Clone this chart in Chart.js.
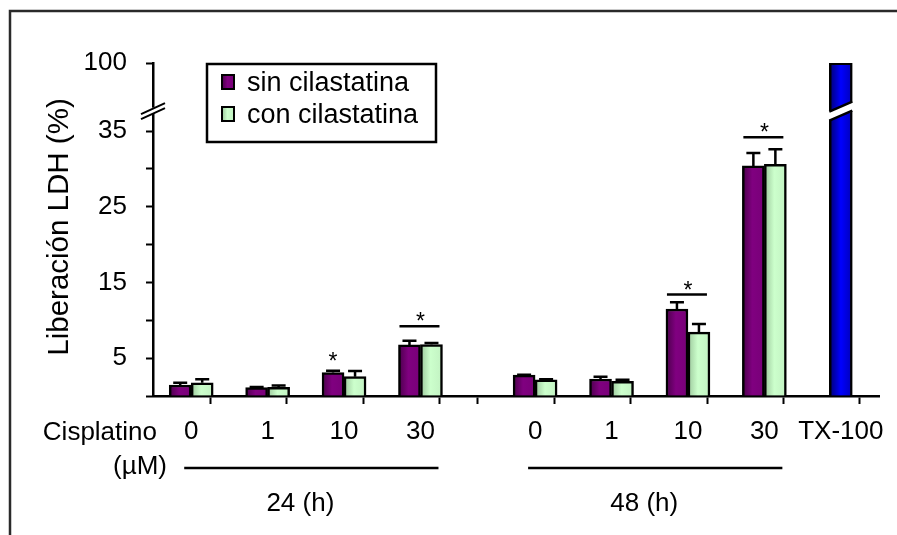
<!DOCTYPE html>
<html>
<head>
<meta charset="utf-8">
<script src="https://cdn.jsdelivr.net/npm/chart.js@4/dist/chart.umd.min.js"></script>
<style>
html,body{margin:0;padding:0;background:#fff;}
#wrap{width:897px;height:535px;position:relative;}
</style>
</head>
<body>
<div id="wrap"><canvas id="c" width="897" height="535"></canvas></div>
<script>
// ---- data ----
const doseLabels = ['0', '1', '10', '30', '0', '1', '10', '30'];
const doseX = [1, 3, 5, 7, 10, 12, 14, 16];          // category centres on the x axis
const groupBounds = [0, 2, 4, 6, 8, 9, 11, 13, 15, 17, 19]; // category boundaries (tick marks)
const txLabel = 'TX-100';
const txX = 18;
const sinCilastatina = [1.45, 1.1, 3.1, 6.75, 2.75, 2.25, 11.5, 30.4];
const sinCilastatinaErr = [0.3, 0.08, 0.25, 0.55, 0.05, 0.3, 0.9, 1.7];
const conCilastatina = [1.75, 1.15, 2.55, 6.8, 2.15, 1.95, 8.45, 30.6];
const conCilastatinaErr = [0.45, 0.25, 0.75, 0.2, 0.05, 0.2, 1.05, 2.0];
const txValue = [100];
const yTicks = [0, 5, 10, 15, 20, 25, 30, 35];
const yTopLabel = 100;      // value shown at the top of the broken axis
const yAxisMax = 44;        // axis position where the "100" tick sits
const axisBreakValue = 37.7;
const sigLevel = [null, null, 3.95, 9.2, null, null, 13.4, 34.2];
const sigType = ['', '', 'sin', 'pair', '', '', 'pair', 'pair'];
const groupNames = ['24 (h)', '48 (h)'];
const groupMembers = [[0, 3], [4, 7]];
const xRowTitle = ['Cisplatino', '(\u00B5M)'];
const seriesNames = ['sin cilastatina', 'con cilastatina'];

const FONT = '"Liberation Sans", Arial, sans-serif';
const BAR_W = 22;

const labelByX = new Map();
doseX.forEach((x, i) => labelByX.set(x, doseLabels[i]));
labelByX.set(txX, txLabel);
const boundarySet = new Set(groupBounds);
const allXTicks = [...new Set([...groupBounds, ...doseX, txX])].sort((a, b) => a - b);

function grad(ctx, x0, x1, stops) {
  const g = ctx.createLinearGradient(x0, 0, x1, 0);
  stops.forEach(s => g.addColorStop(s[0], s[1]));
  return g;
}
const purpleStops = [[0, '#4a004a'], [0.45, '#800080'], [1, '#780078']];
const greenStops = [[0, '#9cc89c'], [0.45, '#ccffcc'], [1, '#c2f2c2']];
const blueStops = [[0, '#00006e'], [0.5, '#0000ff'], [1, '#0000b8']];

function barFill(stops, shift, w) {
  return (c) => {
    const xs = c.chart.scales.x;
    if (!xs || !c.parsed || c.parsed.x === undefined) return stops[1][1];
    const cx = xs.getPixelForValue(c.parsed.x) + shift;
    if (!isFinite(cx)) return stops[1][1];
    return grad(c.chart.ctx, cx - w / 2, cx + w / 2, stops);
  };
}

const sinData = doseX.map((x, i) => ({ x, y: sinCilastatina[i] }));
const conData = doseX.map((x, i) => ({ x, y: conCilastatina[i] }));
const txData = [{ x: txX, y: txValue[0] }];

// ---- plugins ----
const framePlugin = {
  id: 'frame',
  afterDraw(chart) {
    const ctx = chart.ctx;
    ctx.save();
    ctx.strokeStyle = '#2a2a2a';
    ctx.lineWidth = 2.5;
    ctx.beginPath();
    ctx.moveTo(10, 535);
    ctx.lineTo(10, 11);
    ctx.lineTo(897, 11);
    ctx.stroke();
    ctx.restore();
  }
};

const errorPlugin = {
  id: 'errs',
  afterDatasetsDraw(chart) {
    const ctx = chart.ctx;
    const ys = chart.scales.y;
    const errs = [sinCilastatinaErr, conCilastatinaErr];
    const vals = [sinCilastatina, conCilastatina];
    ctx.save();
    ctx.strokeStyle = '#000';
    ctx.lineWidth = 2.5;
    [0, 1].forEach(d => {
      const meta = chart.getDatasetMeta(d);
      meta.data.forEach((el, i) => {
        const top = ys.getPixelForValue(vals[d][i]);
        const cap = ys.getPixelForValue(vals[d][i] + errs[d][i]);
        ctx.beginPath();
        ctx.moveTo(el.x, top);
        ctx.lineTo(el.x, cap);
        ctx.moveTo(el.x - 7, cap);
        ctx.lineTo(el.x + 7, cap);
        ctx.stroke();
      });
    });
    // significance marks
    const xs = chart.scales.x;
    ctx.fillStyle = '#000';
    ctx.font = '23px ' + FONT;
    ctx.textAlign = 'center';
    ctx.textBaseline = 'alphabetic';
    sigLevel.forEach((lv, i) => {
      if (lv === null) return;
      const cx = xs.getPixelForValue(doseX[i]);
      const py = ys.getPixelForValue(lv);
      if (sigType[i] === 'pair') {
        ctx.beginPath();
        ctx.moveTo(cx - 21, py);
        ctx.lineTo(cx + 19, py);
        ctx.stroke();
        ctx.fillText('*', cx, py + 3);
      } else {
        ctx.fillText('*', cx - BAR_W / 2, py + 3);
      }
    });
    // break in TX-100 bar
    const txEl = chart.getDatasetMeta(2).data[0];
    if (txEl) {
      const l = txEl.x - txEl.width / 2, r = txEl.x + txEl.width / 2;
      const yb = ys.getPixelForValue(axisBreakValue);
      const ca = chart.chartArea;
      ctx.strokeStyle = '#000';
      ctx.lineWidth = 2;
      ctx.beginPath();
      ctx.moveTo(l + 1, ca.top + 1);
      ctx.lineTo(r - 1, ca.top + 1);
      ctx.stroke();
      ctx.fillStyle = '#fff';
      ctx.beginPath();
      ctx.moveTo(l - 2, yb + 1);
      ctx.lineTo(r + 2, yb - 9);
      ctx.lineTo(r + 2, yb + 0);
      ctx.lineTo(l - 2, yb + 10);
      ctx.closePath();
      ctx.fill();
      ctx.lineWidth = 2.5;
      ctx.beginPath();
      ctx.moveTo(l, yb + 1);
      ctx.lineTo(r, yb - 9);
      ctx.moveTo(l, yb + 10);
      ctx.lineTo(r, yb + 0);
      ctx.stroke();
    }
    ctx.restore();
  }
};

const axisExtrasPlugin = {
  id: 'axisExtras',
  afterDraw(chart) {
    const ctx = chart.ctx;
    const xs = chart.scales.x, ys = chart.scales.y;
    const ax = chart.chartArea.left;
    ctx.save();
    // y-axis break marks
    const yb = ys.getPixelForValue(axisBreakValue);
    ctx.fillStyle = '#fff';
    ctx.fillRect(ax - 2, yb - 3, 4, 6);
    ctx.strokeStyle = '#000';
    ctx.lineWidth = 2;
    ctx.beginPath();
    ctx.moveTo(ax - 12, yb + 3.5);
    ctx.lineTo(ax + 12, yb - 7.5);
    ctx.moveTo(ax - 12, yb + 8.5);
    ctx.lineTo(ax + 12, yb - 2.5);
    ctx.stroke();
    // y title
    ctx.fillStyle = '#000';
    ctx.font = '29.5px ' + FONT;
    ctx.textAlign = 'center';
    ctx.textBaseline = 'alphabetic';
    ctx.translate(68, 227);
    ctx.rotate(-Math.PI / 2);
    ctx.fillText('Liberaci\u00F3n LDH (%)', 0, 0);
    ctx.setTransform(1, 0, 0, 1, 0, 0);
    // row titles
    ctx.font = '26px ' + FONT;
    ctx.textAlign = 'right';
    ctx.fillText(xRowTitle[0], 157, 440);
    ctx.fillText(xRowTitle[1], 167, 474);
    // group lines and names
    ctx.lineWidth = 2.5;
    ctx.textAlign = 'center';
    groupMembers.forEach((g, k) => {
      const x0 = xs.getPixelForValue(doseX[g[0]]) - 7;
      const x1 = xs.getPixelForValue(doseX[g[1]]) + 18;
      ctx.beginPath();
      ctx.moveTo(x0, 468);
      ctx.lineTo(x1, 468);
      ctx.stroke();
      ctx.fillText(groupNames[k], (x0 + x1) / 2 - 11, 511);
    });
    // legend
    const lx = ax + 54, ly = chart.chartArea.top + 1;
    ctx.lineWidth = 2.5;
    ctx.strokeRect(lx, ly, 229, 78);
    const sw = [purpleStops, greenStops];
    ctx.font = '27px ' + FONT;
    ctx.textAlign = 'left';
    ctx.textBaseline = 'middle';
    seriesNames.forEach((name, i) => {
      const sy = ly + 18 + i * 32;
      ctx.fillStyle = grad(ctx, lx + 15, lx + 27, sw[i]);
      ctx.fillRect(lx + 15, sy - 7, 12, 14);
      ctx.strokeStyle = '#000';
      ctx.lineWidth = 2;
      ctx.strokeRect(lx + 15, sy - 7, 12, 14);
      ctx.fillStyle = '#000';
      ctx.fillText(name, lx + 40, sy + 2);
    });
    ctx.restore();
  }
};

new Chart(document.getElementById('c'), {
  type: 'bar',
  data: {
    datasets: [
      { label: seriesNames[0], data: sinData, backgroundColor: barFill(purpleStops, -BAR_W / 2, BAR_W),
        borderColor: '#000', borderWidth: 2.5, barThickness: BAR_W, clip: 0 },
      { label: seriesNames[1], data: conData, backgroundColor: barFill(greenStops, BAR_W / 2, BAR_W),
        borderColor: '#000', borderWidth: 2.5, barThickness: BAR_W, clip: 0 },
      { label: txLabel, data: txData, backgroundColor: barFill(blueStops, 0, 23),
        borderColor: '#000', borderWidth: 2.5, barThickness: 23, grouped: false, clip: 0 }
    ]
  },
  options: {
    responsive: false,
    animation: false,
    devicePixelRatio: 1,
    layout: { padding: { top: 63, right: 18, left: 0, bottom: 0 } },
    plugins: { legend: { display: false }, tooltip: { enabled: false } },
    scales: {
      x: {
        type: 'linear', min: 0, max: 19, offset: false,
        afterBuildTicks: s => { s.ticks = allXTicks.map(v => ({ value: v })); },
        afterFit: s => { s.height = 139; },
        grid: {
          drawOnChartArea: false, tickLength: 8, tickWidth: 2,
          tickColor: c => (c.tick && boundarySet.has(c.tick.value)) ? '#000' : 'rgba(0,0,0,0)'
        },
        border: { color: '#000', width: 2.5 },
        ticks: {
          autoSkip: false, maxRotation: 0, minRotation: 0, padding: 12, color: '#000',
          font: { family: FONT, size: 26 },
          callback: v => labelByX.has(v) ? labelByX.get(v) : ''
        }
      },
      y: {
        type: 'linear', min: 0, max: yAxisMax,
        afterBuildTicks: s => { s.ticks = [...yTicks, yAxisMax].map(v => ({ value: v })); },
        afterFit: s => { s.width = 153; },
        grid: { drawOnChartArea: false, tickLength: 7, tickWidth: 2, tickColor: '#000' },
        border: { color: '#000', width: 2.5 },
        ticks: {
          padding: 19, color: '#000', font: { family: FONT, size: 26 },
          callback: v => v === yAxisMax ? String(yTopLabel) : (v % 10 === 5 ? String(v) : '')
        }
      }
    }
  },
  plugins: [framePlugin, errorPlugin, axisExtrasPlugin]
});
</script>
</body>
</html>
